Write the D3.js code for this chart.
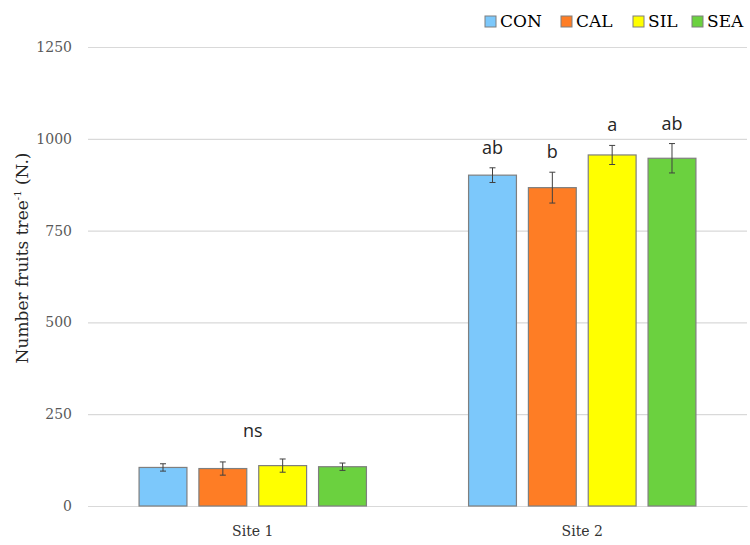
<!DOCTYPE html>
<html>
<head>
<meta charset="utf-8">
<script src="https://cdn.jsdelivr.net/npm/d3@7"></script>
<style>
  body { margin: 0; background: #fff; }
  svg { display: block; }
</style>
</head>
<body>
<svg id="chart" width="750" height="545"></svg>
<script>
// Data
const sites = ["Site 1", "Site 2"];
const treatments = ["CON", "CAL", "SIL", "SEA"];
const colors = ["#7cc8fb", "#fe7d25", "#ffff00", "#6bd13f"];
const site1Values = [105, 102, 110, 107];
const site1Errors = [10, 18, 18, 10];
const site2Values = [901, 867, 956, 947];
const site2Errors = [20, 42, 26, 40];
const site2Letters = ["ab", "b", "a", "ab"];
const site1Note = "ns";
const yTicks = [0, 250, 500, 750, 1000, 1250];

const svg = d3.select("#chart");
const margin = { top: 47, right: 3, bottom: 39, left: 88 };
const width = 750 - margin.left - margin.right;
const height = 545 - margin.top - margin.bottom;
const g = svg.append("g").attr("transform", `translate(${margin.left},${margin.top})`);

const serif = "'Palatino Linotype', 'Book Antiqua', Palatino, 'DejaVu Serif', serif";

// rows for drawing
const rows = [];
sites.forEach((s, si) => {
    const vals = si === 0 ? site1Values : site2Values;
    const errs = si === 0 ? site1Errors : site2Errors;
    treatments.forEach((t, ti) => {
        rows.push({ site: s, trt: t, value: vals[ti], err: errs[ti], color: colors[ti], letter: si === 1 ? site2Letters[ti] : null });
    });
});

const x0 = d3.scaleBand().domain(sites).range([0, width]).paddingInner(0).paddingOuter(0);
const x1 = d3.scaleBand().domain(treatments).range([0, x0.bandwidth() * 0.69]).paddingInner(0.2);
const groupOffset = (x0.bandwidth() - x1.range()[1]) / 2;
const y = d3.scaleLinear().domain([0, 1250]).range([height, 0]);

// gridlines
g.append("g")
    .call(d3.axisLeft(y).tickValues(yTicks).tickSize(-width).tickPadding(16).tickFormat(d3.format("d")))
    .call(a => a.select(".domain").remove())
    .call(a => a.selectAll(".tick line").attr("stroke", "#d9d9d9").attr("stroke-width", 1.2))
    .call(a => a.selectAll(".tick text").attr("fill", "#595959").style("font-family", serif).style("font-size", "14px"));

// x axis
g.append("g")
    .attr("transform", `translate(0,${height})`)
    .call(d3.axisBottom(x0).tickSize(0).tickPadding(20))
    .call(a => a.select(".domain").attr("stroke", "#d9d9d9").attr("stroke-width", 1.2))
    .call(a => a.selectAll(".tick text").attr("fill", "#333").style("font-family", serif).style("font-size", "14px"));

const bx = d => x0(d.site) + groupOffset + x1(d.trt);

// bars
g.selectAll(".bar")
    .data(rows)
    .enter().append("rect")
    .attr("class", "bar")
    .attr("x", bx)
    .attr("y", d => y(d.value))
    .attr("width", x1.bandwidth())
    .attr("height", d => height - y(d.value))
    .attr("fill", d => d.color)
    .attr("stroke", "#7f7f7f")
    .attr("stroke-width", 1.2);

// error bars
const eb = g.selectAll(".err").data(rows).enter().append("g").attr("class", "err")
    .attr("stroke", "#404040").attr("stroke-width", 1);
eb.append("line")
    .attr("x1", d => bx(d) + x1.bandwidth() / 2).attr("x2", d => bx(d) + x1.bandwidth() / 2)
    .attr("y1", d => y(d.value + d.err)).attr("y2", d => y(d.value - d.err));
eb.append("line")
    .attr("x1", d => bx(d) + x1.bandwidth() / 2 - 3).attr("x2", d => bx(d) + x1.bandwidth() / 2 + 3)
    .attr("y1", d => y(d.value + d.err)).attr("y2", d => y(d.value + d.err));
eb.append("line")
    .attr("x1", d => bx(d) + x1.bandwidth() / 2 - 3).attr("x2", d => bx(d) + x1.bandwidth() / 2 + 3)
    .attr("y1", d => y(d.value - d.err)).attr("y2", d => y(d.value - d.err));

// significance letters
g.selectAll(".letter")
    .data(rows.filter(d => d.letter))
    .enter().append("text")
    .attr("class", "letter")
    .attr("x", d => bx(d) + x1.bandwidth() / 2)
    .attr("y", d => y(d.value + d.err) - 14)
    .attr("text-anchor", "middle")
    .style("font-family", "'Open Sans', sans-serif")
    .style("font-size", "18px")
    .attr("fill", "#262626")
    .text(d => d.letter);

const site1Max = d3.max(rows.filter(d => d.site === "Site 1"), d => d.value + d.err);
g.append("text")
    .attr("x", x0("Site 1") + x0.bandwidth() / 2)
    .attr("y", y(site1Max) - 22)
    .attr("text-anchor", "middle")
    .style("font-family", "'Open Sans', sans-serif")
    .style("font-size", "18px")
    .attr("fill", "#262626")
    .text(site1Note);

// y axis title
const yTitle = svg.append("text")
    .attr("transform", "translate(28,258) rotate(-90)")
    .attr("text-anchor", "middle")
    .style("font-family", serif)
    .style("font-size", "17px")
    .attr("fill", "#262626");
yTitle.append("tspan").text("Number fruits tree");
yTitle.append("tspan").attr("dy", -7).style("font-size", "10px").text("-1");
yTitle.append("tspan").attr("dy", 7).text(" (N.)");

// legend
const legendX = [485, 561, 633, 692];
const legend = svg.append("g").selectAll(".legend-item")
    .data(treatments)
    .enter().append("g")
    .attr("class", "legend-item")
    .attr("transform", (d, i) => `translate(${legendX[i]},16)`);
legend.append("rect")
    .attr("width", 11).attr("height", 11)
    .attr("fill", (d, i) => colors[i])
    .attr("stroke", "#7f7f7f");
legend.append("text")
    .attr("x", 15).attr("y", 11)
    .style("font-family", serif)
    .style("font-size", "17px")
    .attr("fill", "#000")
    .text(d => d);
</script>
</body>
</html>
